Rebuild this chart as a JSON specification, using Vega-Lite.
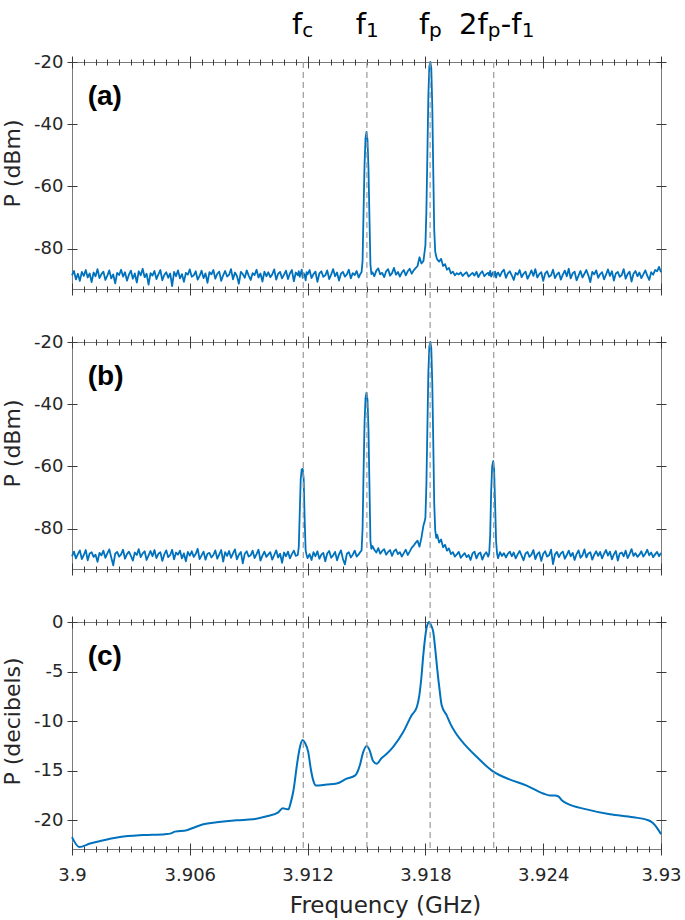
{
"$schema": "https://vega.github.io/schema/vega-lite/v6.json",
"background": "white",
"padding": {"left": 0, "top": 10, "right": 5, "bottom": 5},
"bounds": "flush",
"spacing": 53,
"config": {
 "view": {"stroke": "#7a7a7a", "strokeWidth": 1},
 "axis": {"domain": false, "grid": false, "tickColor": "#3a3a3a", "tickWidth": 1, "labelFont": "DejaVu Sans", "labelFontSize": 18, "labelColor": "#262626", "titleFont": "DejaVu Sans", "titleFontSize": 22, "titleFontWeight": "normal", "titleColor": "#262626", "labelFlush": false, "labelOverlap": false}
},
"datasets": {
 "marks": [{"f":3.91178},{"f":3.91502},{"f":3.91824},{"f":3.92148}],
 "labs": [
  {"f":3.91178,"t":"f","k":"b"},{"f":3.91178,"t":"c","k":"s"},
  {"f":3.91502,"t":"f","k":"b"},{"f":3.91502,"t":"1","k":"s"},
  {"f":3.91824,"t":"f","k":"b"},{"f":3.91824,"t":"p","k":"s"},
  {"f":3.92148,"t":"2f","k":"b2"},{"f":3.92148,"t":"p","k":"s2"},
  {"f":3.92148,"t":"-f","k":"b3"},{"f":3.92148,"t":"1","k":"s3"}
 ],
 "spec": [
{"f":3.9,"a":-88.6,"b":-88.9},{"f":3.9001,"a":-87.2,"b":-87.4},{"f":3.9002,"a":-89.9,"b":-89.6},{"f":3.9003,"a":-88.1,"b":-88.2},{"f":3.9004,"a":-90.4,"b":-87.0},
{"f":3.9005,"a":-87.5,"b":-89.8},{"f":3.9006,"a":-88.8,"b":-88.5},{"f":3.9007,"a":-86.9,"b":-86.9},{"f":3.9008,"a":-89.3,"b":-90.2},{"f":3.9009,"a":-88.0,"b":-88.0},
{"f":3.901,"a":-90.8,"b":-87.6},{"f":3.9011,"a":-87.7,"b":-89.1},{"f":3.9012,"a":-88.9,"b":-88.4},{"f":3.9013,"a":-86.6,"b":-90.7},{"f":3.9014,"a":-89.5,"b":-87.8},
{"f":3.9015,"a":-88.2,"b":-88.6},{"f":3.9016,"a":-87.4,"b":-87.1},{"f":3.9017,"a":-90.1,"b":-89.4},{"f":3.9018,"a":-88.7,"b":-88.0},{"f":3.9019,"a":-87.0,"b":-86.7},
{"f":3.902,"a":-89.6,"b":-89.3},{"f":3.9021,"a":-88.3,"b":-91.8},{"f":3.9022,"a":-91.2,"b":-88.1},{"f":3.9023,"a":-87.8,"b":-87.5},{"f":3.9024,"a":-88.5,"b":-89.0},
{"f":3.9025,"a":-86.8,"b":-88.3},{"f":3.9026,"a":-89.0,"b":-86.8},{"f":3.9027,"a":-87.6,"b":-89.7},{"f":3.9028,"a":-90.3,"b":-88.2},{"f":3.9029,"a":-88.4,"b":-87.4},
{"f":3.903,"a":-87.1,"b":-88.8},{"f":3.9031,"a":-89.7,"b":-90.3},{"f":3.9032,"a":-88.0,"b":-87.7},{"f":3.9033,"a":-90.9,"b":-88.5},{"f":3.9034,"a":-87.3,"b":-86.6},
{"f":3.9035,"a":-88.6,"b":-89.2},{"f":3.9036,"a":-86.5,"b":-88.0},{"f":3.9037,"a":-89.2,"b":-87.3},{"f":3.9038,"a":-88.1,"b":-90.1},{"f":3.9039,"a":-91.6,"b":-88.6},
{"f":3.904,"a":-87.9,"b":-87.2},{"f":3.9041,"a":-88.7,"b":-88.9},{"f":3.9042,"a":-87.2,"b":-86.9},{"f":3.9043,"a":-89.8,"b":-89.5},{"f":3.9044,"a":-88.3,"b":-88.1},
{"f":3.9045,"a":-86.9,"b":-87.6},{"f":3.9046,"a":-90.2,"b":-90.4},{"f":3.9047,"a":-88.5,"b":-88.3},{"f":3.9048,"a":-87.6,"b":-87.0},{"f":3.9049,"a":-89.4,"b":-89.2},
{"f":3.905,"a":-88.0,"b":-88.5},{"f":3.9051,"a":-92.1,"b":-86.8},{"f":3.9052,"a":-87.5,"b":-89.9},{"f":3.9053,"a":-88.9,"b":-87.7},{"f":3.9054,"a":-87.0,"b":-88.4},
{"f":3.9055,"a":-89.6,"b":-87.1},{"f":3.9056,"a":-88.2,"b":-89.6},{"f":3.9057,"a":-90.7,"b":-88.0},{"f":3.9058,"a":-87.8,"b":-90.5},{"f":3.9059,"a":-88.4,"b":-87.5},
{"f":3.906,"a":-86.7,"b":-88.7},{"f":3.9061,"a":-89.1,"b":-87.3},{"f":3.9062,"a":-88.6,"b":-89.1},{"f":3.9063,"a":-87.3,"b":-88.2},{"f":3.9064,"a":-90.0,"b":-86.5},
{"f":3.9065,"a":-88.8,"b":-89.8},{"f":3.9066,"a":-87.1,"b":-88.6},{"f":3.9067,"a":-89.5,"b":-87.4},{"f":3.9068,"a":-88.0,"b":-90.0},{"f":3.9069,"a":-91.0,"b":-88.1},
{"f":3.907,"a":-87.6,"b":-87.8},{"f":3.9071,"a":-88.3,"b":-89.3},{"f":3.9072,"a":-86.9,"b":-88.5},{"f":3.9073,"a":-89.7,"b":-87.0},{"f":3.9074,"a":-88.1,"b":-89.7},
{"f":3.9075,"a":-87.4,"b":-88.3},{"f":3.9076,"a":-90.4,"b":-86.9},{"f":3.9077,"a":-88.6,"b":-90.6},{"f":3.9078,"a":-87.2,"b":-87.6},{"f":3.9079,"a":-89.0,"b":-88.8},
{"f":3.908,"a":-88.4,"b":-87.2},{"f":3.9081,"a":-86.6,"b":-89.4},{"f":3.9082,"a":-89.9,"b":-88.0},{"f":3.9083,"a":-87.7,"b":-86.7},{"f":3.9084,"a":-88.8,"b":-89.9},
{"f":3.9085,"a":-91.3,"b":-88.4},{"f":3.9086,"a":-87.5,"b":-87.5},{"f":3.9087,"a":-88.2,"b":-91.2},{"f":3.9088,"a":-89.4,"b":-88.1},{"f":3.9089,"a":-87.0,"b":-87.3},
{"f":3.909,"a":-88.7,"b":-89.0},{"f":3.9091,"a":-90.1,"b":-88.6},{"f":3.9092,"a":-87.9,"b":-87.1},{"f":3.9093,"a":-88.5,"b":-89.5},{"f":3.9094,"a":-86.8,"b":-88.2},
{"f":3.9095,"a":-89.3,"b":-86.8},{"f":3.9096,"a":-88.0,"b":-90.3},{"f":3.9097,"a":-90.6,"b":-88.7},{"f":3.9098,"a":-87.4,"b":-87.4},{"f":3.9099,"a":-88.9,"b":-89.1},
{"f":3.91,"a":-87.6,"b":-88.3},{"f":3.9101,"a":-89.2,"b":-87.6},{"f":3.9102,"a":-88.3,"b":-90.0},{"f":3.9103,"a":-86.7,"b":-88.5},{"f":3.9104,"a":-90.0,"b":-87.0},
{"f":3.9105,"a":-88.1,"b":-89.3},{"f":3.9106,"a":-87.5,"b":-88.1},{"f":3.9107,"a":-89.6,"b":-91.0},{"f":3.9108,"a":-88.4,"b":-87.7},{"f":3.9109,"a":-87.1,"b":-88.9},
{"f":3.911,"a":-89.8,"b":-87.4},{"f":3.9111,"a":-88.0,"b":-89.6},{"f":3.9112,"a":-86.9,"b":-88.2},{"f":3.9113,"a":-90.5,"b":-87.1},{"f":3.9114,"a":-87.7,"b":-88.8},
{"f":3.9115,"a":-88.6,"b":-88.5},{"f":3.91155,"a":-87.3,"b":-86},{"f":3.9116,"a":-89.1,"b":-75},{"f":3.91165,"a":-88.0,"b":-64},{"f":3.9117,"a":-86.8,"b":-61},
{"f":3.91175,"a":-89.4,"b":-60.8},{"f":3.9118,"a":-87.9,"b":-64},{"f":3.91185,"a":-88.5,"b":-77},{"f":3.9119,"a":-90.2,"b":-87},{"f":3.91195,"a":-87.6,"b":-88.5},
{"f":3.912,"a":-88.3,"b":-89.5},{"f":3.9121,"a":-86.9,"b":-88.2},{"f":3.9122,"a":-89.5,"b":-90.1},{"f":3.9123,"a":-88.2,"b":-87.6},{"f":3.9124,"a":-87.4,"b":-88.9},
{"f":3.9125,"a":-90.7,"b":-87.3},{"f":3.9126,"a":-88.0,"b":-89.7},{"f":3.9127,"a":-87.3,"b":-88.4},{"f":3.9128,"a":-89.1,"b":-87.8},{"f":3.9129,"a":-88.6,"b":-90.5},
{"f":3.913,"a":-87.0,"b":-88.0},{"f":3.9131,"a":-89.8,"b":-87.2},{"f":3.9132,"a":-88.4,"b":-89.4},{"f":3.9133,"a":-86.6,"b":-88.6},{"f":3.9134,"a":-88.9,"b":-87.5},
{"f":3.9135,"a":-87.7,"b":-90.2},{"f":3.9136,"a":-90.3,"b":-88.3},{"f":3.9137,"a":-88.1,"b":-87.0},{"f":3.9138,"a":-87.5,"b":-89.8},{"f":3.9139,"a":-89.0,"b":-91.5},
{"f":3.914,"a":-88.3,"b":-88.1},{"f":3.9141,"a":-86.8,"b":-87.6},{"f":3.9142,"a":-89.6,"b":-89.3},{"f":3.9143,"a":-87.9,"b":-88.4},{"f":3.9144,"a":-88.5,"b":-87.1},
{"f":3.9145,"a":-87.2,"b":-89.0},{"f":3.9146,"a":-89.3,"b":-88.3},{"f":3.9147,"a":-88.0,"b":-87.4},
{"f":3.91475,"a":-87.5,"b":-87},{"f":3.9148,"a":-84,"b":-80},{"f":3.91485,"a":-68,"b":-62},{"f":3.9149,"a":-53,"b":-46},{"f":3.91495,"a":-44.5,"b":-38},
{"f":3.915,"a":-42.5,"b":-36.3},{"f":3.91505,"a":-45,"b":-38.5},{"f":3.9151,"a":-54,"b":-48},{"f":3.91515,"a":-70,"b":-66},{"f":3.9152,"a":-85,"b":-84},
{"f":3.91525,"a":-88.2,"b":-86.5},{"f":3.9153,"a":-87.6,"b":-85.6},{"f":3.9154,"a":-88.9,"b":-86.8},{"f":3.9155,"a":-87.1,"b":-87.7},{"f":3.9156,"a":-86.4,"b":-86.3},
{"f":3.9157,"a":-88.3,"b":-88.1},{"f":3.9158,"a":-87.8,"b":-87.2},{"f":3.9159,"a":-89.2,"b":-86.6},{"f":3.916,"a":-87.3,"b":-88.4},{"f":3.9161,"a":-86.6,"b":-87.5},
{"f":3.9162,"a":-88.7,"b":-86.9},{"f":3.9163,"a":-87.9,"b":-88.8},{"f":3.9164,"a":-86.2,"b":-87.3},{"f":3.9165,"a":-88.4,"b":-86.7},{"f":3.9166,"a":-87.5,"b":-88.2},
{"f":3.9167,"a":-89.0,"b":-87.6},{"f":3.9168,"a":-87.7,"b":-89.0},{"f":3.9169,"a":-86.9,"b":-87.9},{"f":3.917,"a":-88.6,"b":-86.8},{"f":3.9171,"a":-87.3,"b":-88.5},
{"f":3.9172,"a":-86.5,"b":-87.4},{"f":3.9173,"a":-88.1,"b":-86.2},{"f":3.9174,"a":-87.0,"b":-85.5},{"f":3.9175,"a":-86.3,"b":-84.6},{"f":3.9176,"a":-85.6,"b":-83.9},
{"f":3.9177,"a":-82.8,"b":-85.8},{"f":3.9178,"a":-84.8,"b":-82.9},
{"f":3.9179,"a":-84,"b":-79},{"f":3.91795,"a":-81.5,"b":-78},{"f":3.918,"a":-79,"b":-76.5},{"f":3.91805,"a":-68,"b":-66},{"f":3.9181,"a":-50,"b":-48},
{"f":3.91815,"a":-31,"b":-30},{"f":3.9182,"a":-21.5,"b":-21.5},{"f":3.91825,"a":-20,"b":-20},{"f":3.9183,"a":-22,"b":-22},{"f":3.91835,"a":-34,"b":-33},
{"f":3.9184,"a":-55,"b":-52},{"f":3.91845,"a":-74,"b":-72},{"f":3.9185,"a":-81,"b":-80.5},{"f":3.91855,"a":-82.5,"b":-83},{"f":3.9186,"a":-83.5,"b":-82},
{"f":3.9187,"a":-84.2,"b":-84.5},{"f":3.9188,"a":-83.3,"b":-83.5},{"f":3.9189,"a":-85.6,"b":-86.0},{"f":3.919,"a":-85.0,"b":-85.2},{"f":3.9191,"a":-86.8,"b":-87.1},
{"f":3.9192,"a":-86.2,"b":-86.4},{"f":3.9193,"a":-88.0,"b":-88.2},{"f":3.9194,"a":-87.4,"b":-87.6},{"f":3.9195,"a":-88.6,"b":-89.0},{"f":3.9196,"a":-87.9,"b":-88.3},
{"f":3.9197,"a":-88.3,"b":-87.5},{"f":3.9198,"a":-87.7,"b":-89.4},{"f":3.9199,"a":-88.8,"b":-88.6},{"f":3.92,"a":-88.1,"b":-87.9},{"f":3.9201,"a":-87.6,"b":-89.2},
{"f":3.9202,"a":-89.0,"b":-88.5},{"f":3.9203,"a":-88.4,"b":-90.1},{"f":3.9204,"a":-87.8,"b":-88.0},{"f":3.9205,"a":-88.7,"b":-87.4},{"f":3.9206,"a":-87.5,"b":-89.6},
{"f":3.9207,"a":-89.2,"b":-88.2},{"f":3.9208,"a":-88.0,"b":-87.7},{"f":3.9209,"a":-87.3,"b":-90.0},{"f":3.921,"a":-88.9,"b":-88.4},{"f":3.9211,"a":-88.2,"b":-87.6},
{"f":3.9212,"a":-87.8,"b":-89},{"f":3.92125,"a":-88.6,"b":-88},{"f":3.9213,"a":-87.2,"b":-82},{"f":3.92135,"a":-89.0,"b":-68},{"f":3.9214,"a":-88.3,"b":-60},
{"f":3.92145,"a":-87.6,"b":-58.3},{"f":3.9215,"a":-88.8,"b":-61},{"f":3.92155,"a":-87.4,"b":-72},{"f":3.9216,"a":-89.3,"b":-84},{"f":3.92165,"a":-88.1,"b":-88},
{"f":3.9217,"a":-87.7,"b":-89.5},{"f":3.9218,"a":-88.9,"b":-87.6},{"f":3.9219,"a":-87.5,"b":-88.8},{"f":3.922,"a":-86.8,"b":-87.9},{"f":3.9221,"a":-89.4,"b":-89.3},
{"f":3.9222,"a":-88.0,"b":-88.1},{"f":3.9223,"a":-87.3,"b":-87.4},{"f":3.9224,"a":-88.6,"b":-88.9},{"f":3.9225,"a":-90.1,"b":-87.7},{"f":3.9226,"a":-87.8,"b":-89.6},
{"f":3.9227,"a":-88.4,"b":-88.3},{"f":3.9228,"a":-86.9,"b":-87.2},{"f":3.9229,"a":-89.2,"b":-88.7},{"f":3.923,"a":-88.1,"b":-90.2},{"f":3.9231,"a":-87.4,"b":-88.0},
{"f":3.9232,"a":-89.7,"b":-87.5},{"f":3.9233,"a":-88.5,"b":-89.1},{"f":3.9234,"a":-87.0,"b":-88.4},{"f":3.9235,"a":-88.8,"b":-86.9},{"f":3.9236,"a":-86.6,"b":-89.8},
{"f":3.9237,"a":-89.3,"b":-88.2},{"f":3.9238,"a":-88.2,"b":-87.6},{"f":3.9239,"a":-87.6,"b":-90.4},{"f":3.924,"a":-90.4,"b":-88.1},{"f":3.9241,"a":-88.0,"b":-87.3},
{"f":3.9242,"a":-87.3,"b":-89.0},{"f":3.9243,"a":-89.1,"b":-88.6},{"f":3.9244,"a":-88.6,"b":-86.8},{"f":3.9245,"a":-86.8,"b":-91.4},{"f":3.9246,"a":-89.5,"b":-88.3},
{"f":3.9247,"a":-88.3,"b":-87.5},{"f":3.9248,"a":-87.7,"b":-89.2},{"f":3.9249,"a":-90.0,"b":-88.0},{"f":3.925,"a":-88.4,"b":-87.4},{"f":3.9251,"a":-87.1,"b":-89.7},
{"f":3.9252,"a":-88.9,"b":-88.5},{"f":3.9253,"a":-86.5,"b":-87.1},{"f":3.9254,"a":-89.6,"b":-88.9},{"f":3.9255,"a":-88.0,"b":-87.8},{"f":3.9256,"a":-87.4,"b":-90.1},
{"f":3.9257,"a":-90.2,"b":-88.2},{"f":3.9258,"a":-88.7,"b":-87.0},{"f":3.9259,"a":-87.2,"b":-89.4},{"f":3.926,"a":-89.3,"b":-88.6},{"f":3.9261,"a":-88.1,"b":-86.7},
{"f":3.9262,"a":-86.9,"b":-89.3},{"f":3.9263,"a":-88.6,"b":-88.0},{"f":3.9264,"a":-90.8,"b":-87.6},{"f":3.9265,"a":-87.5,"b":-90.0},{"f":3.9266,"a":-88.3,"b":-88.4},
{"f":3.9267,"a":-87.0,"b":-87.3},{"f":3.9268,"a":-89.4,"b":-88.8},{"f":3.9269,"a":-88.2,"b":-87.5},{"f":3.927,"a":-87.6,"b":-89.6},{"f":3.9271,"a":-89.9,"b":-88.1},
{"f":3.9272,"a":-88.4,"b":-86.9},{"f":3.9273,"a":-86.7,"b":-88.7},{"f":3.9274,"a":-88.8,"b":-87.4},{"f":3.9275,"a":-87.3,"b":-89.9},{"f":3.9276,"a":-90.3,"b":-88.3},
{"f":3.9277,"a":-88.0,"b":-87.2},{"f":3.9278,"a":-87.5,"b":-90.3},{"f":3.9279,"a":-89.1,"b":-88.0},{"f":3.928,"a":-88.5,"b":-87.7},{"f":3.9281,"a":-86.6,"b":-88.9},
{"f":3.9282,"a":-89.7,"b":-87.1},{"f":3.9283,"a":-88.2,"b":-89.5},{"f":3.9284,"a":-87.4,"b":-88.2},{"f":3.9285,"a":-90.6,"b":-86.6},{"f":3.9286,"a":-88.1,"b":-88.8},
{"f":3.9287,"a":-87.2,"b":-87.9},{"f":3.9288,"a":-88.9,"b":-89.1},{"f":3.9289,"a":-87.7,"b":-88.4},{"f":3.929,"a":-89.5,"b":-87.3},{"f":3.9291,"a":-88.3,"b":-89.0},
{"f":3.9292,"a":-87.0,"b":-88.1},{"f":3.9293,"a":-88.7,"b":-86.8},{"f":3.9294,"a":-90.1,"b":-88.6},{"f":3.9295,"a":-87.6,"b":-87.7},{"f":3.9296,"a":-88.4,"b":-89.2},
{"f":3.9297,"a":-86.9,"b":-88.3},{"f":3.9298,"a":-87.3,"b":-87.5},{"f":3.9299,"a":-85.9,"b":-88.9},{"f":3.93,"a":-87.6,"b":-87.8}
 ],
 "cdat": [
{"f":3.9,"c":-21.7},{"f":3.90037,"c":-22.7},{"f":3.90092,"c":-22.35},{"f":3.90143,"c":-22.1},{"f":3.90244,"c":-21.7},
{"f":3.90363,"c":-21.5},{"f":3.90474,"c":-21.4},{"f":3.90499,"c":-21.35},{"f":3.90525,"c":-21.15},{"f":3.90584,"c":-21.0},
{"f":3.90626,"c":-20.7},{"f":3.90669,"c":-20.4},{"f":3.90737,"c":-20.2},{"f":3.90839,"c":-20.0},{"f":3.90923,"c":-19.9},
{"f":3.90992,"c":-19.6},{"f":3.91051,"c":-19.2},{"f":3.91073,"c":-18.8},{"f":3.91102,"c":-18.9},{"f":3.91113,"c":-18.3},
{"f":3.91127,"c":-17.1},{"f":3.91148,"c":-14.1},{"f":3.91161,"c":-12.6},{"f":3.91175,"c":-11.9},{"f":3.91187,"c":-12.2},
{"f":3.91203,"c":-13.1},{"f":3.91217,"c":-14.9},{"f":3.91229,"c":-16.0},{"f":3.91243,"c":-16.5},{"f":3.91297,"c":-16.4},
{"f":3.91348,"c":-16.3},{"f":3.91399,"c":-15.8},{"f":3.91441,"c":-15.5},{"f":3.91452,"c":-15.2},{"f":3.91467,"c":-14.4},
{"f":3.91482,"c":-13.2},{"f":3.91501,"c":-12.5},{"f":3.91515,"c":-12.9},{"f":3.91533,"c":-14.0},{"f":3.91552,"c":-14.3},
{"f":3.91574,"c":-13.8},{"f":3.91603,"c":-13.3},{"f":3.91636,"c":-12.6},{"f":3.91687,"c":-11.1},{"f":3.9173,"c":-9.4},
{"f":3.91756,"c":-8.6},{"f":3.91769,"c":-7.4},{"f":3.9178,"c":-5.5},{"f":3.91789,"c":-3.4},{"f":3.91807,"c":-0.5},
{"f":3.9182,"c":0},{"f":3.91828,"c":-0.3},{"f":3.9184,"c":-1.0},{"f":3.9185,"c":-2.7},{"f":3.9186,"c":-4.7},
{"f":3.91872,"c":-6.8},{"f":3.91883,"c":-8.4},{"f":3.91908,"c":-9.4},{"f":3.91928,"c":-10.3},{"f":3.91951,"c":-11.1},
{"f":3.92002,"c":-12.4},{"f":3.92061,"c":-13.6},{"f":3.92146,"c":-15.1},{"f":3.92231,"c":-15.9},{"f":3.92316,"c":-16.5},
{"f":3.924,"c":-17.3},{"f":3.92435,"c":-17.5},{"f":3.9246,"c":-17.5},{"f":3.92477,"c":-17.6},{"f":3.92496,"c":-18.0},
{"f":3.9252,"c":-18.3},{"f":3.92621,"c":-18.9},{"f":3.9274,"c":-19.4},{"f":3.92859,"c":-19.7},{"f":3.92935,"c":-20.0},
{"f":3.92954,"c":-20.2},{"f":3.92969,"c":-20.5},{"f":3.92984,"c":-20.9},{"f":3.93,"c":-21.4}
 ]
},
"vconcat": [
 {
  "width": 589, "height": 227,
  "layer": [
   {"data": {"name": "spec"}, "mark": {"type": "line", "color": "#0072BD", "strokeWidth": 1.8, "strokeJoin": "round"},
    "encoding": {
     "x": {"field": "f", "type": "quantitative", "scale": {"domain": [3.9, 3.93], "nice": false, "zero": false},
           "axis": {"orient": "bottom", "values": [3.9, 3.906, 3.912, 3.918, 3.924, 3.93], "tickSize": 12, "offset": -6, "labels": false, "title": null}},
     "y": {"field": "a", "type": "quantitative", "scale": {"domain": [-93, -20], "nice": false, "zero": false},
           "axis": {"orient": "left", "values": [-80, -60, -40, -20], "labelExpr": "'' + datum.value", "tickSize": 10, "offset": -5, "labelPadding": 4, "minExtent": 44, "maxExtent": 44, "title": "P (dBm)", "titlePadding": 9, "titleY": 101}}
    }},
   {"data": {"name": "spec"}, "mark": {"type": "point", "opacity": 0, "size": 1},
    "encoding": {
     "x": {"field": "f", "type": "quantitative", "scale": {"domain": [3.9, 3.93], "nice": false, "zero": false},
           "axis": {"orient": "bottom", "values": [3.9,3.9006,3.9012,3.9018,3.9024,3.903,3.9036,3.9042,3.9048,3.9054,3.906,3.9066,3.9072,3.9078,3.9084,3.909,3.9096,3.9102,3.9108,3.9114,3.912,3.9126,3.9132,3.9138,3.9144,3.915,3.9156,3.9162,3.9168,3.9174,3.918,3.9186,3.9192,3.9198,3.9204,3.921,3.9216,3.9222,3.9228,3.9234,3.924,3.9246,3.9252,3.9258,3.9264,3.927,3.9276,3.9282,3.9288,3.9294,3.93], "tickSize": 6, "offset": -3, "labels": false, "title": null}},
     "y": {"field": "a", "type": "quantitative", "scale": {"domain": [-93, -20], "nice": false, "zero": false},
           "axis": {"orient": "right", "values": [-80, -60, -40, -20], "tickSize": 10, "offset": -5, "labels": false, "title": null}}
    }},
   {"data": {"name": "spec"}, "mark": {"type": "point", "opacity": 0, "size": 1},
    "encoding": {
     "x": {"field": "f", "type": "quantitative", "scale": {"domain": [3.9, 3.93], "nice": false, "zero": false},
           "axis": {"orient": "top", "values": [3.9,3.9006,3.9012,3.9018,3.9024,3.903,3.9036,3.9042,3.9048,3.9054,3.906,3.9066,3.9072,3.9078,3.9084,3.909,3.9096,3.9102,3.9108,3.9114,3.912,3.9126,3.9132,3.9138,3.9144,3.915,3.9156,3.9162,3.9168,3.9174,3.918,3.9186,3.9192,3.9198,3.9204,3.921,3.9216,3.9222,3.9228,3.9234,3.924,3.9246,3.9252,3.9258,3.9264,3.927,3.9276,3.9282,3.9288,3.9294,3.93], "tickSize": 6, "offset": -3, "labels": false, "title": null}},
     "y": {"field": "a", "type": "quantitative", "scale": {"domain": [-93, -20], "nice": false, "zero": false}, "axis": null}
    }},
   {"data": {"name": "marks"}, "mark": {"type": "rule", "color": "#9a9a9a", "strokeWidth": 1.2, "strokeDash": [6, 4]},
    "encoding": {
     "x": {"field": "f", "type": "quantitative", "scale": {"domain": [3.9, 3.93], "nice": false, "zero": false},
           "axis": {"orient": "top", "values": [3.9, 3.906, 3.912, 3.918, 3.924, 3.93], "tickSize": 12, "offset": -6, "labels": false, "title": null}},
     "y": {"datum": -20, "scale": {"domain": [-93, -20], "nice": false, "zero": false}, "axis": null},
     "y2": {"datum": -110}
    }},
   {"data": {"values": [{"t": "(a)"}]}, "mark": {"type": "text", "font": "Liberation Sans", "fontWeight": "bold", "fontSize": 28, "align": "left", "baseline": "alphabetic", "color": "#000000"},
    "encoding": {
     "x": {"datum": 3.9008, "type": "quantitative", "scale": {"domain": [3.9, 3.93], "nice": false, "zero": false}, "axis": null},
     "y": {"datum": -33.8, "type": "quantitative", "scale": {"domain": [-93, -20], "nice": false, "zero": false}, "axis": null},
     "text": {"field": "t"}
    }},
   {"data": {"name": "labs"}, "transform": [{"filter": "datum.k == 'b'"}], "mark": {"type": "text", "font": "DejaVu Sans", "fontSize": 29, "align": "right", "baseline": "alphabetic", "dx": -1, "color": "#000000"},
    "encoding": {
     "x": {"field": "f", "type": "quantitative", "scale": {"domain": [3.9, 3.93], "nice": false, "zero": false}, "axis": null},
     "y": {"datum": -11, "type": "quantitative", "scale": {"domain": [-93, -20], "nice": false, "zero": false}, "axis": null},
     "text": {"field": "t"}
    }},
   {"data": {"name": "labs"}, "transform": [{"filter": "datum.k == 's'"}], "mark": {"type": "text", "font": "DejaVu Sans", "fontSize": 20, "align": "left", "baseline": "alphabetic", "dx": -1, "dy": 3, "color": "#000000"},
    "encoding": {
     "x": {"field": "f", "type": "quantitative", "scale": {"domain": [3.9, 3.93], "nice": false, "zero": false}, "axis": null},
     "y": {"datum": -11, "type": "quantitative", "scale": {"domain": [-93, -20], "nice": false, "zero": false}, "axis": null},
     "text": {"field": "t"}
    }},
   {"data": {"name": "labs"}, "transform": [{"filter": "datum.k == 'b2'"}], "mark": {"type": "text", "font": "DejaVu Sans", "fontSize": 29, "align": "right", "baseline": "alphabetic", "dx": -6, "color": "#000000"},
    "encoding": {
     "x": {"field": "f", "type": "quantitative", "scale": {"domain": [3.9, 3.93], "nice": false, "zero": false}, "axis": null},
     "y": {"datum": -11, "type": "quantitative", "scale": {"domain": [-93, -20], "nice": false, "zero": false}, "axis": null},
     "text": {"field": "t"}
    }},
   {"data": {"name": "labs"}, "transform": [{"filter": "datum.k == 's2'"}], "mark": {"type": "text", "font": "DejaVu Sans", "fontSize": 20, "align": "left", "baseline": "alphabetic", "dx": -6, "dy": 3, "color": "#000000"},
    "encoding": {
     "x": {"field": "f", "type": "quantitative", "scale": {"domain": [3.9, 3.93], "nice": false, "zero": false}, "axis": null},
     "y": {"datum": -11, "type": "quantitative", "scale": {"domain": [-93, -20], "nice": false, "zero": false}, "axis": null},
     "text": {"field": "t"}
    }},
   {"data": {"name": "labs"}, "transform": [{"filter": "datum.k == 'b3'"}], "mark": {"type": "text", "font": "DejaVu Sans", "fontSize": 29, "align": "left", "baseline": "alphabetic", "dx": 7, "color": "#000000"},
    "encoding": {
     "x": {"field": "f", "type": "quantitative", "scale": {"domain": [3.9, 3.93], "nice": false, "zero": false}, "axis": null},
     "y": {"datum": -11, "type": "quantitative", "scale": {"domain": [-93, -20], "nice": false, "zero": false}, "axis": null},
     "text": {"field": "t"}
    }},
   {"data": {"name": "labs"}, "transform": [{"filter": "datum.k == 's3'"}], "mark": {"type": "text", "font": "DejaVu Sans", "fontSize": 20, "align": "left", "baseline": "alphabetic", "dx": 28, "dy": 3, "color": "#000000"},
    "encoding": {
     "x": {"field": "f", "type": "quantitative", "scale": {"domain": [3.9, 3.93], "nice": false, "zero": false}, "axis": null},
     "y": {"datum": -11, "type": "quantitative", "scale": {"domain": [-93, -20], "nice": false, "zero": false}, "axis": null},
     "text": {"field": "t"}
    }}
  ],
  "resolve": {"axis": {"x": "independent", "y": "independent"}}
 },
 {
  "width": 589, "height": 227,
  "layer": [
   {"data": {"name": "spec"}, "mark": {"type": "line", "color": "#0072BD", "strokeWidth": 1.8, "strokeJoin": "round"},
    "encoding": {
     "x": {"field": "f", "type": "quantitative", "scale": {"domain": [3.9, 3.93], "nice": false, "zero": false},
           "axis": {"orient": "bottom", "values": [3.9, 3.906, 3.912, 3.918, 3.924, 3.93], "tickSize": 12, "offset": -6, "labels": false, "title": null}},
     "y": {"field": "b", "type": "quantitative", "scale": {"domain": [-93, -20], "nice": false, "zero": false},
           "axis": {"orient": "left", "values": [-80, -60, -40, -20], "labelExpr": "'' + datum.value", "tickSize": 10, "offset": -5, "labelPadding": 4, "minExtent": 44, "maxExtent": 44, "title": "P (dBm)", "titlePadding": 9, "titleY": 101}}
    }},
   {"data": {"name": "spec"}, "mark": {"type": "point", "opacity": 0, "size": 1},
    "encoding": {
     "x": {"field": "f", "type": "quantitative", "scale": {"domain": [3.9, 3.93], "nice": false, "zero": false},
           "axis": {"orient": "bottom", "values": [3.9,3.9006,3.9012,3.9018,3.9024,3.903,3.9036,3.9042,3.9048,3.9054,3.906,3.9066,3.9072,3.9078,3.9084,3.909,3.9096,3.9102,3.9108,3.9114,3.912,3.9126,3.9132,3.9138,3.9144,3.915,3.9156,3.9162,3.9168,3.9174,3.918,3.9186,3.9192,3.9198,3.9204,3.921,3.9216,3.9222,3.9228,3.9234,3.924,3.9246,3.9252,3.9258,3.9264,3.927,3.9276,3.9282,3.9288,3.9294,3.93], "tickSize": 6, "offset": -3, "labels": false, "title": null}},
     "y": {"field": "b", "type": "quantitative", "scale": {"domain": [-93, -20], "nice": false, "zero": false},
           "axis": {"orient": "right", "values": [-80, -60, -40, -20], "tickSize": 10, "offset": -5, "labels": false, "title": null}}
    }},
   {"data": {"name": "spec"}, "mark": {"type": "point", "opacity": 0, "size": 1},
    "encoding": {
     "x": {"field": "f", "type": "quantitative", "scale": {"domain": [3.9, 3.93], "nice": false, "zero": false},
           "axis": {"orient": "top", "values": [3.9,3.9006,3.9012,3.9018,3.9024,3.903,3.9036,3.9042,3.9048,3.9054,3.906,3.9066,3.9072,3.9078,3.9084,3.909,3.9096,3.9102,3.9108,3.9114,3.912,3.9126,3.9132,3.9138,3.9144,3.915,3.9156,3.9162,3.9168,3.9174,3.918,3.9186,3.9192,3.9198,3.9204,3.921,3.9216,3.9222,3.9228,3.9234,3.924,3.9246,3.9252,3.9258,3.9264,3.927,3.9276,3.9282,3.9288,3.9294,3.93], "tickSize": 6, "offset": -3, "labels": false, "title": null}},
     "y": {"field": "b", "type": "quantitative", "scale": {"domain": [-93, -20], "nice": false, "zero": false}, "axis": null}
    }},
   {"data": {"name": "marks"}, "mark": {"type": "rule", "color": "#9a9a9a", "strokeWidth": 1.2, "strokeDash": [6, 4]},
    "encoding": {
     "x": {"field": "f", "type": "quantitative", "scale": {"domain": [3.9, 3.93], "nice": false, "zero": false},
           "axis": {"orient": "top", "values": [3.9, 3.906, 3.912, 3.918, 3.924, 3.93], "tickSize": 12, "offset": -6, "labels": false, "title": null}},
     "y": {"datum": -20, "scale": {"domain": [-93, -20], "nice": false, "zero": false}, "axis": null},
     "y2": {"datum": -110}
    }},
   {"data": {"values": [{"t": "(b)"}]}, "mark": {"type": "text", "font": "Liberation Sans", "fontWeight": "bold", "fontSize": 28, "align": "left", "baseline": "alphabetic", "color": "#000000"},
    "encoding": {
     "x": {"datum": 3.9008, "type": "quantitative", "scale": {"domain": [3.9, 3.93], "nice": false, "zero": false}, "axis": null},
     "y": {"datum": -33.8, "type": "quantitative", "scale": {"domain": [-93, -20], "nice": false, "zero": false}, "axis": null},
     "text": {"field": "t"}
    }}
  ],
  "resolve": {"axis": {"x": "independent", "y": "independent"}}
 },
 {
  "width": 589, "height": 227,
  "layer": [
   {"data": {"name": "cdat"}, "mark": {"type": "line", "color": "#0072BD", "strokeWidth": 2, "interpolate": "monotone"},
    "encoding": {
     "x": {"field": "f", "type": "quantitative", "scale": {"domain": [3.9, 3.93], "nice": false, "zero": false},
           "axis": {"orient": "bottom", "values": [3.9, 3.906, 3.912, 3.918, 3.924, 3.93], "tickSize": 12, "offset": -6, "labels": true, "labelPadding": 11, "format": ".3~f", "title": "Frequency (GHz)", "titleX": 313, "titlePadding": 10, "titleFontSize": 23}},
     "y": {"field": "c", "type": "quantitative", "scale": {"domain": [-22.9, 0], "nice": false, "zero": false},
           "axis": {"orient": "left", "values": [-20, -15, -10, -5, 0], "labelExpr": "'' + datum.value", "tickSize": 10, "offset": -5, "labelPadding": 4, "minExtent": 44, "maxExtent": 44, "title": "P (decibels)", "titlePadding": 9, "titleY": 99}}
    }},
   {"data": {"name": "cdat"}, "mark": {"type": "point", "opacity": 0, "size": 1},
    "encoding": {
     "x": {"field": "f", "type": "quantitative", "scale": {"domain": [3.9, 3.93], "nice": false, "zero": false},
           "axis": {"orient": "bottom", "values": [3.9,3.9006,3.9012,3.9018,3.9024,3.903,3.9036,3.9042,3.9048,3.9054,3.906,3.9066,3.9072,3.9078,3.9084,3.909,3.9096,3.9102,3.9108,3.9114,3.912,3.9126,3.9132,3.9138,3.9144,3.915,3.9156,3.9162,3.9168,3.9174,3.918,3.9186,3.9192,3.9198,3.9204,3.921,3.9216,3.9222,3.9228,3.9234,3.924,3.9246,3.9252,3.9258,3.9264,3.927,3.9276,3.9282,3.9288,3.9294,3.93], "tickSize": 6, "offset": -3, "labels": false, "title": null}},
     "y": {"field": "c", "type": "quantitative", "scale": {"domain": [-22.9, 0], "nice": false, "zero": false},
           "axis": {"orient": "right", "values": [-20, -15, -10, -5, 0], "tickSize": 10, "offset": -5, "labels": false, "title": null}}
    }},
   {"data": {"name": "cdat"}, "mark": {"type": "point", "opacity": 0, "size": 1},
    "encoding": {
     "x": {"field": "f", "type": "quantitative", "scale": {"domain": [3.9, 3.93], "nice": false, "zero": false},
           "axis": {"orient": "top", "values": [3.9,3.9006,3.9012,3.9018,3.9024,3.903,3.9036,3.9042,3.9048,3.9054,3.906,3.9066,3.9072,3.9078,3.9084,3.909,3.9096,3.9102,3.9108,3.9114,3.912,3.9126,3.9132,3.9138,3.9144,3.915,3.9156,3.9162,3.9168,3.9174,3.918,3.9186,3.9192,3.9198,3.9204,3.921,3.9216,3.9222,3.9228,3.9234,3.924,3.9246,3.9252,3.9258,3.9264,3.927,3.9276,3.9282,3.9288,3.9294,3.93], "tickSize": 6, "offset": -3, "labels": false, "title": null}},
     "y": {"field": "c", "type": "quantitative", "scale": {"domain": [-22.9, 0], "nice": false, "zero": false}, "axis": null}
    }},
   {"data": {"name": "marks"}, "mark": {"type": "rule", "color": "#9a9a9a", "strokeWidth": 1.2, "strokeDash": [6, 4]},
    "encoding": {
     "x": {"field": "f", "type": "quantitative", "scale": {"domain": [3.9, 3.93], "nice": false, "zero": false},
           "axis": {"orient": "top", "values": [3.9, 3.906, 3.912, 3.918, 3.924, 3.93], "tickSize": 12, "offset": -6, "labels": false, "title": null}}
    }},
   {"data": {"values": [{"t": "(c)"}]}, "mark": {"type": "text", "font": "Liberation Sans", "fontWeight": "bold", "fontSize": 28, "align": "left", "baseline": "alphabetic", "color": "#000000"},
    "encoding": {
     "x": {"datum": 3.9008, "type": "quantitative", "scale": {"domain": [3.9, 3.93], "nice": false, "zero": false}, "axis": null},
     "y": {"datum": -4.34, "type": "quantitative", "scale": {"domain": [-22.9, 0], "nice": false, "zero": false}, "axis": null},
     "text": {"field": "t"}
    }}
  ],
  "resolve": {"axis": {"x": "independent", "y": "independent"}}
 }
]
}
